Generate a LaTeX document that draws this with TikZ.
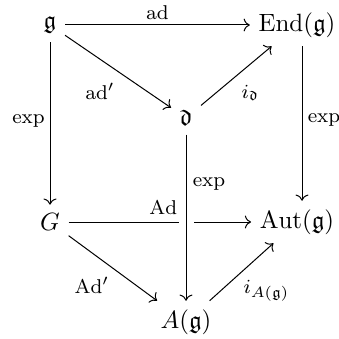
\documentclass[tikz,border=0pt]{standalone}
\usepackage{amssymb}
\usetikzlibrary{cd}
\begin{document}
\begin{tikzpicture}[x=0.40pt,y=-0.40pt,
  obj/.style={inner sep=3.3pt},
  arr/.style={draw, line width=0.4pt, -{cm to}},
  lab/.style={font=\footnotesize, inner sep=0pt, pos=0.5}]
\useasboundingbox (0,0) rectangle (339,339);
\node[obj] (g) at (50,25) {$\mathfrak{g}$};
\node[obj] (End) at (297,25) {$\mathrm{End}(\mathfrak{g})$};
\node[obj] (d) at (186,118) {$\mathfrak{d}$};
\node[obj] (G) at (50,222) {$G$};
\node[obj] (Aut) at (297,222) {$\mathrm{Aut}(\mathfrak{g})$};
\node[obj] (A) at (186,322) {$A(\mathfrak{g})$};

\path[arr] (g) -- node[lab, yshift=4.8pt] {$\mathrm{ad}$} (End);
\path[arr] (g) -- node[lab, xshift=-7.2pt, yshift=-8pt] {$\mathrm{ad}'$} (d);
\path[arr] (d) -- node[lab, xshift=5.6pt, yshift=-6.8pt] {$i_{\mathfrak{d}}$} (End);
\path[arr] (g) -- node[lab, xshift=-8.6pt, yshift=1pt] {$\exp$} (G);
\path[arr] ([xshift=2pt]End.south) -- node[lab, xshift=8.8pt, yshift=1.4pt] {$\exp$} ([xshift=2pt]Aut.north);
\path[arr] (G) -- node[lab, xshift=1.4pt, yshift=5.8pt] {$\mathrm{Ad}$} (Aut);
\path[arr, preaction={draw=white, line width=6pt, -}] (d) -- node[lab, pos=0.3, xshift=9.2pt] {$\exp$} (A);
\path[arr] (G) -- node[lab, xshift=-8.4pt, yshift=-6.8pt] {$\mathrm{Ad}'$} (A);
\path[arr] (A) -- node[lab, xshift=10pt, yshift=-7.6pt] {$i_{A(\mathfrak{g})}$} (Aut);
\end{tikzpicture}
\end{document}
